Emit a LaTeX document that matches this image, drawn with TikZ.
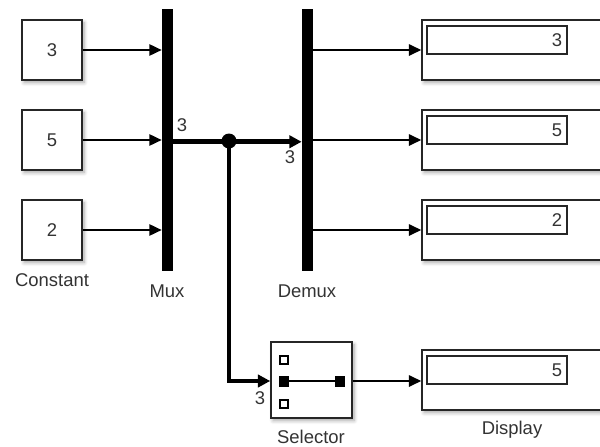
\documentclass[tikz,border=0pt]{standalone}
\usepackage{fontspec}
\setmainfont{Liberation Sans}
\usetikzlibrary{arrows.meta,shadows.blur,positioning}
\begin{document}
\begin{tikzpicture}[x=0.02cm,y=-0.02cm,
  txt/.style={text=black!80,font=\fontsize{10.5pt}{12pt}\selectfont,inner sep=0pt},
  shd/.style={blur shadow={shadow xshift=1.2pt,shadow yshift=-1.5pt,shadow blur steps=6,shadow opacity=35}},
  constbox/.style={draw=black!85,line width=0.9pt,fill=white,minimum width=1.2cm,minimum height=1.2cm,shd,txt},
  bar/.style={fill=black,draw=none,minimum width=0.22cm,minimum height=5.24cm,inner sep=0pt},
  dispbox/.style={draw=black!85,line width=0.9pt,fill=white,minimum width=4.4cm,minimum height=1.2cm,shd},
  dispin/.style={draw=black!85,line width=0.8pt,fill=white,minimum width=2.8cm,minimum height=0.56cm,inner sep=0pt},
  sig/.style={line width=0.8pt,-{Triangle[length=7pt,width=6.5pt]}},
  bus/.style={line width=2.6pt,-{Triangle[length=7pt,width=7pt]}},
  small/.style={draw=black,line width=0.8pt,minimum size=0.16cm,inner sep=0pt},
  smallf/.style={fill=black,draw=black,minimum width=0.18cm,minimum height=0.2cm,inner sep=0pt},
]
\useasboundingbox (0,0) rectangle (600,447);
\clip (0,0) rectangle (600,447);
% constants
\node[constbox] (c1) at (52,50) {3};
\node[constbox] (c2) at (52,140) {5};
\node[constbox] (c3) at (52,230) {2};
\node[txt] (lc) at (52,280) {Constant};
% mux / demux
\node[bar] (mux) at (167.5,140) {};
\node[txt] (lmux) at (167,291) {Mux};
\node[bar] (demux) at (307.5,140) {};
\node[txt] (ldemux) at (307,291) {Demux};
% displays
\node[dispbox] (d1) at (532,50) {};
\node[dispbox] (d2) at (532,140) {};
\node[dispbox] (d3) at (532,230) {};
\node[dispbox] (d4) at (532,380) {};
\node[dispin] (i1) at (497,40) {};
\node[dispin] (i2) at (497,130) {};
\node[dispin] (i3) at (497,220) {};
\node[dispin] (i4) at (497,370) {};
\node[txt,anchor=east] (v1) at ([xshift=-3pt]i1.east) {3};
\node[txt,anchor=east] (v2) at ([xshift=-3pt]i2.east) {5};
\node[txt,anchor=east] (v3) at ([xshift=-3pt]i3.east) {2};
\node[txt,anchor=east] (v4) at ([xshift=-3pt]i4.east) {5};
\node[txt] (ld) at (512,430) {Display};
% selector
\node[draw=black!85,line width=0.9pt,fill=white,minimum width=1.62cm,minimum height=1.52cm,shd] (sel) at (311.5,380) {};
\node[small] (s1) at (284,360) {};
\node[smallf] (s2) at (284,381) {};
\node[small] (s3) at (284,404) {};
\node[smallf] (s4) at (340,381) {};
\draw[line width=0.8pt] (s2) -- (s4);
\node[txt] (lsel) at (311,437) {Selector};
% connectors
\draw[sig] (c1.east) -- (c1.east -| mux.west);
\draw[sig] (c2.east) -- (c2.east -| mux.west);
\draw[sig] (c3.east) -- (c3.east -| mux.west);
\coordinate (mo) at ([yshift=-1pt]mux.east);
\coordinate (j) at (229,141);
\draw[bus] (mo) -- (mo -| demux.west);
\fill (j) circle (0.15cm);
\draw[bus] (j) |- (sel.west |- s2) ;
\draw[sig] (d1.west -| demux.east) -- (d1.west);
\draw[sig] (d2.west -| demux.east) -- (d2.west);
\draw[sig] (d3.west -| demux.east) -- (d3.west);
\draw[sig] (sel.east |- s2) -- (d4.west |- s2);
% width labels
\node[txt] (w1) at (182,125) {3};
\node[txt] (w2) at (290,157) {3};
\node[txt] (w3) at (260,398) {3};
\end{tikzpicture}
\end{document}
